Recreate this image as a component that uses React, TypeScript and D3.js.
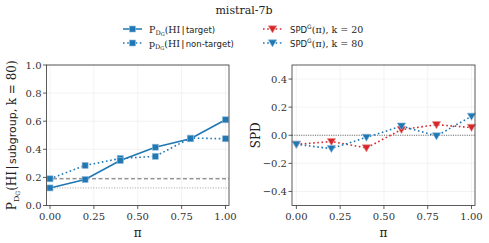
import React from "react";
import * as d3 from "d3";

const xs = [0, 0.2, 0.4, 0.6, 0.8, 1.0];
const target = [0.125, 0.185, 0.32, 0.415, 0.475, 0.61];
const nonTarget = [0.19, 0.285, 0.335, 0.35, 0.48, 0.475];
const refDashed = 0.19;
const refDotted = 0.125;
const spdK20 = [-0.065, -0.045, -0.09, 0.04, 0.075, 0.055];
const spdK80 = [-0.065, -0.095, -0.015, 0.065, -0.005, 0.135];
const xTicks = [0, 0.25, 0.5, 0.75, 1.0];
const leftYTicks = [0, 0.2, 0.4, 0.6, 0.8, 1.0];
const rightYTicks = [-0.4, -0.2, 0, 0.2, 0.4];

const BLUE = "#1f77b4";
const RED = "#d62728";
const SERIF = "'DejaVu Serif', serif";
const SANS = "'DejaVu Sans', sans-serif";

function fmt2(v: number) {
  return v.toFixed(2);
}
function fmt1(v: number) {
  const s = Math.abs(v).toFixed(1);
  return v < -1e-9 ? "\u2212" + s : s;
}

function Square({ x, y, color }: { x: number; y: number; color: string }) {
  const s = 6;
  return <rect x={x - s / 2} y={y - s / 2} width={s} height={s} fill={color} stroke="#8fbbd9" strokeWidth={0.6} />;
}
function TriDown({ x, y, color }: { x: number; y: number; color: string }) {
  const r = 4.2;
  const p = `M${x - r},${y - r * 0.75}L${x + r},${y - r * 0.75}L${x},${y + r * 0.95}Z`;
  return <path d={p} fill={color} stroke={color === BLUE ? "#8fbbd9" : "#eb8f90"} strokeWidth={0.6} />;
}

export default function App() {
  const W = 489, H = 243;
  const top = 65, bottom = 205.5;
  const xL = d3.scaleLinear().domain([-0.02, 1.02]).range([46.5, 229]);
  const yL = d3.scaleLinear().domain([0, 1]).range([bottom, top]);
  const xR = d3.scaleLinear().domain([-0.025, 1.02]).range([292, 475]);
  const yR = d3.scaleLinear().domain([-0.5, 0.5]).range([bottom, top]);

  const lineL = (ys: number[]) =>
    d3.line<number>().x((_, i) => xL(xs[i])).y((d) => yL(d))(ys) || "";
  const lineR = (ys: number[]) =>
    d3.line<number>().x((_, i) => xR(xs[i])).y((d) => yR(d))(ys) || "";

  const axes = (
    x: d3.ScaleLinear<number, number>,
    y: d3.ScaleLinear<number, number>,
    yTicks: number[],
    yFmt: (v: number) => string
  ) => {
    const [x0, x1] = x.range();
    const [y0, y1] = y.range();
    return (
      <g>
        {xTicks.map((t) => (
          <line key={"gx" + t} x1={x(t)} x2={x(t)} y1={y0} y2={y1} stroke="#ebebeb" strokeWidth={0.6} />
        ))}
        {yTicks.map((t) => (
          <line key={"gy" + t} x1={x0} x2={x1} y1={y(t)} y2={y(t)} stroke="#ebebeb" strokeWidth={0.6} />
        ))}
        {xTicks.map((t) => (
          <g key={"tx" + t}>
            <line x1={x(t)} x2={x(t)} y1={y0} y2={y0 + 3.5} stroke="#333" strokeWidth={0.8} />
            <text x={x(t)} y={y0 + 14} textAnchor="middle" fontFamily={SERIF} fontSize={10} fill="#333">
              {fmt2(t)}
            </text>
          </g>
        ))}
        {yTicks.map((t) => (
          <g key={"ty" + t}>
            <line x1={x0} x2={x0 - 3.5} y1={y(t)} y2={y(t)} stroke="#333" strokeWidth={0.8} />
            <text x={x0 - 5} y={y(t) + 3.5} textAnchor="end" fontFamily={SERIF} fontSize={10} fill="#333">
              {yFmt(t)}
            </text>
          </g>
        ))}
      </g>
    );
  };

  const frame = (x: d3.ScaleLinear<number, number>, y: d3.ScaleLinear<number, number>) => {
    const [x0, x1] = x.range();
    const [y0, y1] = y.range();
    return <rect x={x0} y={y1} width={x1 - x0} height={y0 - y1} fill="none" stroke="#333" strokeWidth={0.8} />;
  };

  const dotted = "1.6,2.6";

  return (
    <svg width={W} height={H} style={{ position: "absolute", left: 0, top: 0 }}>
      <rect width={W} height={H} fill="#fff" />
      <text x={244} y={14} textAnchor="middle" fontFamily={SERIF} fontSize={11} fill="#222">
        mistral-7b
      </text>

      {/* Legend left */}
      <g>
        <line x1={123} x2={142} y1={29} y2={29} stroke={BLUE} strokeWidth={1.5} />
        <Square x={132.5} y={29} color={BLUE} />
        <text x={149} y={32.5} fontFamily={SERIF} fontSize={9.5} fill="#222">
          P<tspan fontSize={6.5} dy={2}>D</tspan><tspan fontSize={5} dy={1}>G</tspan>
          <tspan dy={-3}>(HI</tspan><tspan fontFamily={SANS} dx={1.2}>|</tspan><tspan fontFamily={SANS} fontSize={8.5} dx={1.2}>target)</tspan>
        </text>
        <line x1={123} x2={142} y1={43} y2={43} stroke={BLUE} strokeWidth={1.5} strokeDasharray={dotted} />
        <Square x={132.5} y={43} color={BLUE} />
        <text x={149} y={46.5} fontFamily={SERIF} fontSize={9.5} fill="#222">
          p<tspan fontSize={6.5} dy={2}>D</tspan><tspan fontSize={5} dy={1}>G</tspan>
          <tspan dy={-3}>(HI</tspan><tspan fontFamily={SANS} dx={1.2}>|</tspan><tspan fontFamily={SANS} fontSize={8.5} dx={1.2}>non-target)</tspan>
        </text>
      </g>
      {/* Legend right */}
      <g>
        <line x1={263} x2={282} y1={29} y2={29} stroke={RED} strokeWidth={1.5} strokeDasharray={dotted} />
        <TriDown x={272.5} y={29} color={RED} />
        <text x={290} y={32.5} fontFamily={SANS} fontSize={8.5} fill="#222">
          SPD<tspan fontSize={6} dy={-4}>G</tspan><tspan dy={4} fontFamily={SERIF} fontSize={9.5}>(π), k = 20</tspan>
        </text>
        <line x1={263} x2={282} y1={43} y2={43} stroke={BLUE} strokeWidth={1.5} strokeDasharray={dotted} />
        <TriDown x={272.5} y={43} color={BLUE} />
        <text x={290} y={46.5} fontFamily={SANS} fontSize={8.5} fill="#222">
          SPD<tspan fontSize={6} dy={-4}>G</tspan><tspan dy={4} fontFamily={SERIF} fontSize={9.5}>(π), k = 80</tspan>
        </text>
      </g>

      {/* Left panel */}
      {axes(xL, yL, leftYTicks, fmt1)}
      <line x1={xL.range()[0]} x2={xL.range()[1]} y1={yL(refDashed)} y2={yL(refDashed)} stroke="#555" strokeWidth={0.9} strokeDasharray="4,2.5" />
      <line x1={xL.range()[0]} x2={xL.range()[1]} y1={yL(refDotted)} y2={yL(refDotted)} stroke="#999" strokeWidth={0.9} strokeDasharray="1,1.6" />
      <path d={lineL(nonTarget)} fill="none" stroke={BLUE} strokeWidth={1.6} strokeDasharray={dotted} />
      <path d={lineL(target)} fill="none" stroke={BLUE} strokeWidth={1.6} />
      {nonTarget.map((v, i) => <Square key={"n" + i} x={xL(xs[i])} y={yL(v)} color={BLUE} />)}
      {target.map((v, i) => <Square key={"t" + i} x={xL(xs[i])} y={yL(v)} color={BLUE} />)}
      {frame(xL, yL)}
      <text x={(xL.range()[0] + xL.range()[1]) / 2} y={237} textAnchor="middle" fontFamily={SERIF} fontSize={12} fill="#222">π</text>
      <text transform={`translate(16,${(top + bottom) / 2}) rotate(-90)`} textAnchor="middle" fontFamily={SERIF} fontSize={12} fill="#222">
        P<tspan fontSize={8} dy={2.5}>D</tspan><tspan fontSize={6} dy={1}>G</tspan>
        <tspan dy={-3.5}>(HI</tspan><tspan fontFamily={SANS} dx={1.5}>|</tspan><tspan fontFamily={SANS} fontSize={11} dx={1.5}>subgroup, </tspan>k = 80)
      </text>

      {/* Right panel */}
      {axes(xR, yR, rightYTicks, fmt1)}
      <line x1={xR.range()[0]} x2={xR.range()[1]} y1={yR(0)} y2={yR(0)} stroke="#444" strokeWidth={0.8} strokeDasharray="1,1.3" />
      <path d={lineR(spdK20)} fill="none" stroke={RED} strokeWidth={1.6} strokeDasharray={dotted} />
      <path d={lineR(spdK80)} fill="none" stroke={BLUE} strokeWidth={1.6} strokeDasharray={dotted} />
      {spdK20.map((v, i) => <TriDown key={"r" + i} x={xR(xs[i])} y={yR(v)} color={RED} />)}
      {spdK80.map((v, i) => <TriDown key={"b" + i} x={xR(xs[i])} y={yR(v)} color={BLUE} />)}
      {frame(xR, yR)}
      <text x={(xR.range()[0] + xR.range()[1]) / 2} y={237} textAnchor="middle" fontFamily={SERIF} fontSize={12} fill="#222">π</text>
      <text transform={`translate(260,${(top + bottom) / 2}) rotate(-90)`} textAnchor="middle" fontFamily={SERIF} fontSize={12} fill="#222">SPD</text>
    </svg>
  );
}
